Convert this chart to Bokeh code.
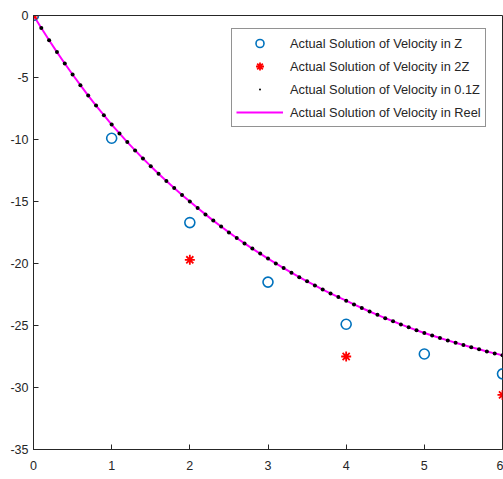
from bokeh.plotting import figure
from bokeh.models import Range1d, Legend, LegendItem, FixedTicker
from bokeh.embed import file_html
from bokeh.resources import INLINE

# Step Z solution (blue circles)
t_z = [0, 1, 2, 3, 4, 5, 6]
v_z = [0, -9.9, -16.7, -21.5, -24.9, -27.3, -28.9]

# Step 2Z solution (red asterisks)
t_2z = [0, 2, 4, 6]
v_2z = [0, -19.7, -27.5, -30.6]

# Step 0.1Z solution (black dots), t = 0, 0.1, ..., 6
t_01z = [round(i * 0.1, 1) for i in range(61)]
v_01z = [
    0, -1.01, -2.00, -2.95, -3.87, -4.76, -5.62, -6.46, -7.26, -8.04,
    -8.8, -9.51, -10.21, -10.88, -11.53, -12.15, -12.76, -13.35, -13.92, -14.47,
    -15.0, -15.53, -16.04, -16.54, -17.02, -17.49, -17.94, -18.38, -18.80, -19.20,
    -19.6, -19.99, -20.37, -20.74, -21.10, -21.44, -21.77, -22.10, -22.41, -22.71,
    -23.0, -23.30, -23.59, -23.87, -24.14, -24.41, -24.66, -24.91, -25.15, -25.38,
    -25.6, -25.81, -26.01, -26.20, -26.39, -26.57, -26.75, -26.92, -27.09, -27.25,
    -27.4,
]

# Real solution (magenta line)
t_reel = t_01z
v_reel = v_01z

x_ticks = [0, 1, 2, 3, 4, 5, 6]
y_ticks = [0, -5, -10, -15, -20, -25, -30, -35]
y_tick_labels = ["0", "-5", "-10", "-15", "-20", "-25", "-30", "-35"]

labels = [
    "Actual Solution of Velocity in Z",
    "Actual Solution of Velocity in 2Z",
    "Actual Solution of Velocity in 0.1Z",
    "Actual Solution of Velocity in Reel",
]

FONT = "Liberation Sans"
AX = "#262626"

p = figure(width=503, height=479, output_backend="svg", toolbar_location=None,
           x_range=Range1d(0, 6), y_range=Range1d(-35, 0),
           min_border_left=33, min_border_right=1, min_border_top=15,
           min_border_bottom=30)
p.background_fill_color = "white"
p.border_fill_color = "white"
p.outline_line_color = AX
p.outline_line_width = 1
p.xgrid.grid_line_color = None
p.ygrid.grid_line_color = None

for ax in (p.xaxis[0], p.yaxis[0]):
    ax.axis_line_color = AX
    ax.major_tick_line_color = AX
    ax.major_tick_in = 5
    ax.major_tick_out = 0
    ax.minor_tick_line_color = None
    ax.major_label_text_font = FONT
    ax.major_label_text_font_size = "12.5px"
    ax.major_label_text_color = AX
p.xaxis.ticker = FixedTicker(ticks=x_ticks)
p.yaxis.ticker = FixedTicker(ticks=y_ticks)
p.yaxis.major_label_overrides = {t: s for t, s in zip(y_ticks, y_tick_labels)}
p.xaxis.major_label_standoff = 11
p.yaxis.major_label_standoff = 5

r_line = p.line(t_reel, v_reel, line_color="#FF00FF", line_width=2)
r_dots = p.scatter(t_01z, v_01z, marker="dot", size=16, line_color="black",
                   fill_color="black", line_width=1)
r_z = p.scatter(t_z, v_z, marker="circle", size=10, fill_color=None,
                line_color="#0072BD", line_width=1.6)
r_2z = p.scatter(t_2z, v_2z, marker="asterisk", size=10, line_color="#FF0000",
                 line_width=1.8)

legend = Legend(items=[
    LegendItem(label=labels[0], renderers=[r_z]),
    LegendItem(label=labels[1], renderers=[r_2z]),
    LegendItem(label=labels[2], renderers=[r_dots]),
    LegendItem(label=labels[3], renderers=[r_line]),
], location=(198, 322))
legend.label_text_font = FONT
legend.label_text_font_size = "12.8px"
legend.label_text_color = AX
legend.glyph_width = 47
legend.glyph_height = 20
legend.label_height = 20
legend.spacing = 3
legend.padding = 4
legend.label_standoff = 7
legend.border_line_color = AX
legend.border_line_width = 1
legend.background_fill_color = "white"
legend.background_fill_alpha = 1
p.add_layout(legend, "center")

open("out.html", "w").write(file_html(p, INLINE))
